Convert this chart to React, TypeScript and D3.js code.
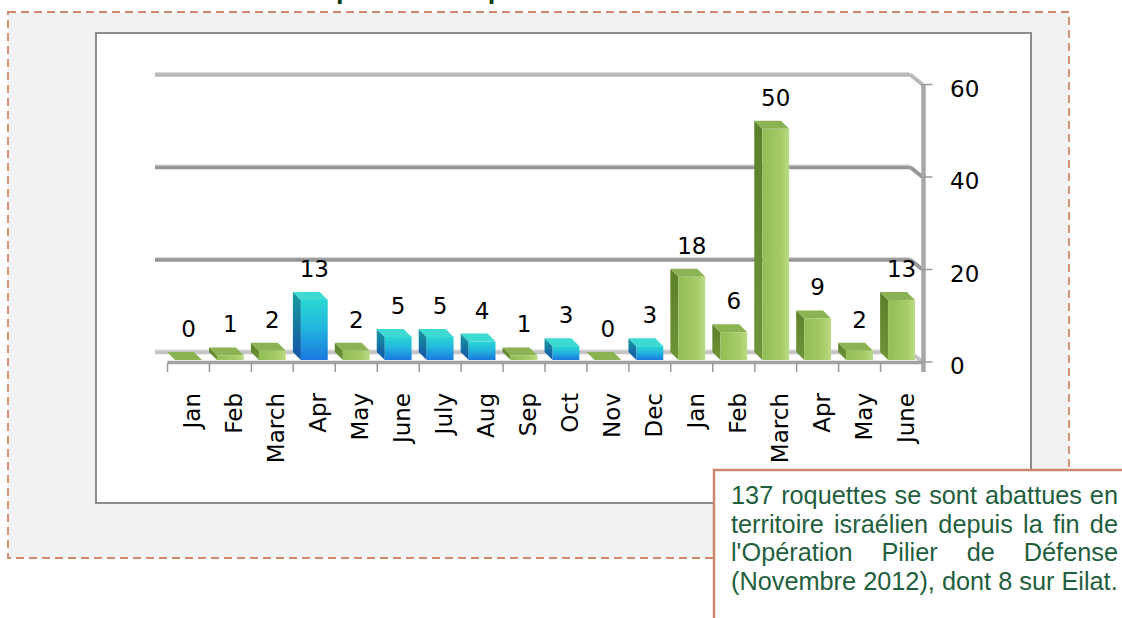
import React, { useMemo } from "react";
import * as d3 from "d3";

const months = ["Jan", "Feb", "March", "Apr", "May", "June", "July", "Aug", "Sep", "Oct", "Nov", "Dec", "Jan", "Feb", "March", "Apr", "May", "June"];
const years = [2012, 2012, 2012, 2012, 2012, 2012, 2012, 2012, 2012, 2012, 2012, 2012, 2013, 2013, 2013, 2013, 2013, 2013];
const rockets = [0, 1, 2, 13, 2, 5, 5, 4, 1, 3, 0, 3, 18, 6, 50, 9, 2, 13];
const yTicks = [0, 20, 40, 60];
const titleText = "Tirs sur Israël par mois depuis";
const noteLines = [
  "137 roquettes se sont abattues en",
  "territoire israélien depuis la fin de",
  "l'Opération Pilier de Défense",
  "(Novembre 2012), dont 8 sur Eilat.",
];

const W = 1122;
const H = 618;
const CHART_FONT = "'DejaVu Sans', sans-serif";
const CHART_FS = 23;
const NOTE_FONT_SIZE = 25.3;
const NOTE_FONT = `${NOTE_FONT_SIZE}px 'Liberation Sans'`;

function useMeasure() {
  return useMemo(() => {
    const ctx = document.createElement("canvas").getContext("2d");
    return (t: string) => {
      if (!ctx) return t.length * NOTE_FONT_SIZE * 0.5;
      ctx.font = NOTE_FONT;
      return ctx.measureText(t).width;
    };
  }, []);
}

export default function App() {
  const measure = useMeasure();
  const idx = rockets.map((_, i) => String(i));
  const x = d3.scaleBand<string>().domain(idx).range([167.5, 922.5]).paddingInner(0.36).paddingOuter(0.18);
  const y = d3.scaleLinear().domain([0, 60]).range([362, 84.5]);
  const step = x.step();
  const xStart = x.range()[0];
  const xEnd = x.range()[1];
  const wallDx = -12.5, wallDy = -10;
  const bDx = -8, bDy = -8;
  const barBottom = y(0) - 2;

  const isBlue = (i: number) => years[i] === 2012 && rockets[i] >= 3;

  // note layout
  const noteLeft = 731, noteRight = 1118, noteBase0 = 504, noteLH = 28.5;
  const noteWords = noteLines.map((line, li) => {
    const words = line.split(" ");
    const widths = words.map((w) => measure(w));
    const total = widths.reduce((a, b) => a + b, 0);
    const justify = li < noteLines.length - 1 && words.length > 1;
    const gap = justify ? (noteRight - noteLeft - total) / (words.length - 1) : measure(" ");
    let cx = noteLeft;
    return words.map((w, wi) => {
      const pos = cx;
      cx += widths[wi] + gap;
      return { w, x: pos, y: noteBase0 + li * noteLH };
    });
  });

  const gridColor = (v: number) => (v === 60 ? "#b8b8b8" : v === 0 ? "#c4c4c4" : "#969696");

  return (
    <div style={{ position: "absolute", left: 0, top: 0, width: W, height: H, overflow: "hidden", background: "#fff" }}>
      <svg width={W} height={H} viewBox={`0 0 ${W} ${H}`} style={{ display: "block" }}>
        <defs>
          <linearGradient id="blueFront" x1="0" y1="0" x2="0" y2="1">
            <stop offset="0" stopColor="#2ad6d4" />
            <stop offset="0.45" stopColor="#22b8dc" />
            <stop offset="1" stopColor="#1a78e0" />
          </linearGradient>
          <linearGradient id="blueSide" x1="0" y1="0" x2="0" y2="1">
            <stop offset="0" stopColor="#179c9e" />
            <stop offset="1" stopColor="#1452a8" />
          </linearGradient>
          <linearGradient id="greenFront" x1="0" y1="0" x2="1" y2="0">
            <stop offset="0" stopColor="#93bd55" />
            <stop offset="0.7" stopColor="#a6cb68" />
            <stop offset="1" stopColor="#bcdc84" />
          </linearGradient>
          <linearGradient id="greenSide" x1="0" y1="0" x2="0" y2="1">
            <stop offset="0" stopColor="#5c7f2a" />
            <stop offset="1" stopColor="#6f9438" />
          </linearGradient>
        </defs>

        {/* outer dashed frame */}
        <rect x={8} y={12} width={1061} height={546} fill="#f2f2f2" stroke="#d0896c" strokeWidth={1.8} strokeDasharray="8 5" />

        {/* cut-off title */}
        <text x={152} y={-1.7} fontFamily="'Liberation Sans', Arial, sans-serif" fontWeight="bold" fontSize={27} fill="#0b3d12">
          {titleText}
        </text>

        {/* plot area */}
        <rect x={96} y={33} width={935} height={470} fill="#ffffff" stroke="#8c8c8c" strokeWidth={2} />

        {/* back-wall gridlines with side connectors */}
        {yTicks.map((v) => (
          <g key={"g" + v}>
            <line x1={xStart + wallDx} x2={xEnd + wallDx} y1={y(v) + wallDy} y2={y(v) + wallDy} stroke={gridColor(v)} strokeWidth={4.5} />
            <line x1={xStart + wallDx} x2={xEnd + wallDx} y1={y(v) + wallDy - 1.8} y2={y(v) + wallDy - 1.8} stroke="#dedede" strokeWidth={1} />
            <line x1={xEnd + wallDx} x2={xEnd} y1={y(v) + wallDy} y2={y(v)} stroke={gridColor(v)} strokeWidth={4} />
          </g>
        ))}

        {/* bars */}
        {rockets.map((v, i) => {
          const xl = x(String(i))!;
          const xr = xl + x.bandwidth();
          const yt = barBottom - (y(0) - y(v));
          const yb = barBottom;
          const blue = isBlue(i);
          const front = blue ? "url(#blueFront)" : "url(#greenFront)";
          const side = blue ? "url(#blueSide)" : "url(#greenSide)";
          const top = blue ? "#3ddad2" : "#8cb353";
          const side0 = blue ? "#179c9e" : "#6a8e33";
          return (
            <g key={"b" + i}>
              <polygon points={`${xl},${yb} ${xl},${yt} ${xl + bDx},${yt + bDy} ${xl + bDx},${yb + bDy}`} fill={v > 0 ? side : side0} />
              <polygon points={`${xl},${yt} ${xr},${yt} ${xr + bDx},${yt + bDy} ${xl + bDx},${yt + bDy}`} fill={top} />
              {v > 0 && <rect x={xl} y={yt} width={xr - xl} height={yb - yt} fill={front} />}
            </g>
          );
        })}

        {/* front x axis */}
        <line x1={xStart} x2={xEnd} y1={y(0) + 0.5} y2={y(0) + 0.5} stroke="#a3a3a3" strokeWidth={3.5} />
        {d3.range(months.length + 1).map((k) => (
          <line key={"xt" + k} x1={xStart + k * step} x2={xStart + k * step} y1={y(0) + 1} y2={y(0) + 10} stroke="#9a9a9a" strokeWidth={1.5} />
        ))}

        {/* right value axis */}
        <line x1={xEnd + 1} x2={xEnd + 1} y1={y(60)} y2={y(0) + 10} stroke="#a8a8a8" strokeWidth={4.5} />
        {yTicks.map((v) => (
          <g key={"yt" + v}>
            <line x1={xEnd - 2} x2={xEnd + 10} y1={y(v)} y2={y(v)} stroke="#9a9a9a" strokeWidth={1.5} />
            <text x={950} y={y(v) + 4} dominantBaseline="central" fontFamily={CHART_FONT} fontSize={CHART_FS} fill="#000">
              {v}
            </text>
          </g>
        ))}

        {/* month labels */}
        {months.map((m, i) => {
          const cx = x(String(i))! + x.bandwidth() / 2;
          return (
            <text key={"m" + i} transform={`translate(${cx + 4},393) rotate(-90)`} textAnchor="end" dominantBaseline="central" fontFamily={CHART_FONT} fontSize={CHART_FS} fill="#000">
              {m}
            </text>
          );
        })}

        {/* data labels */}
        {rockets.map((v, i) => {
          const cx = x(String(i))! + x.bandwidth() / 2;
          const yt = barBottom - (y(0) - y(v)) + bDy;
          return (
            <text key={"l" + i} x={cx} y={yt - 15} textAnchor="middle" fontFamily={CHART_FONT} fontSize={CHART_FS} fill="#000">
              {v}
            </text>
          );
        })}

        {/* annotation box */}
        <rect x={714} y={470} width={420} height={170} fill="#ffffff" stroke="#c9876b" strokeWidth={2.5} />
        {noteWords.map((line, li) =>
          line.map((wd, wi) => (
            <text key={`n${li}-${wi}`} x={wd.x} y={wd.y} fontFamily="'Liberation Sans', Arial, sans-serif" fontSize={NOTE_FONT_SIZE} fill="#1f5e3e">
              {wd.w}
            </text>
          ))
        )}
      </svg>
    </div>
  );
}
